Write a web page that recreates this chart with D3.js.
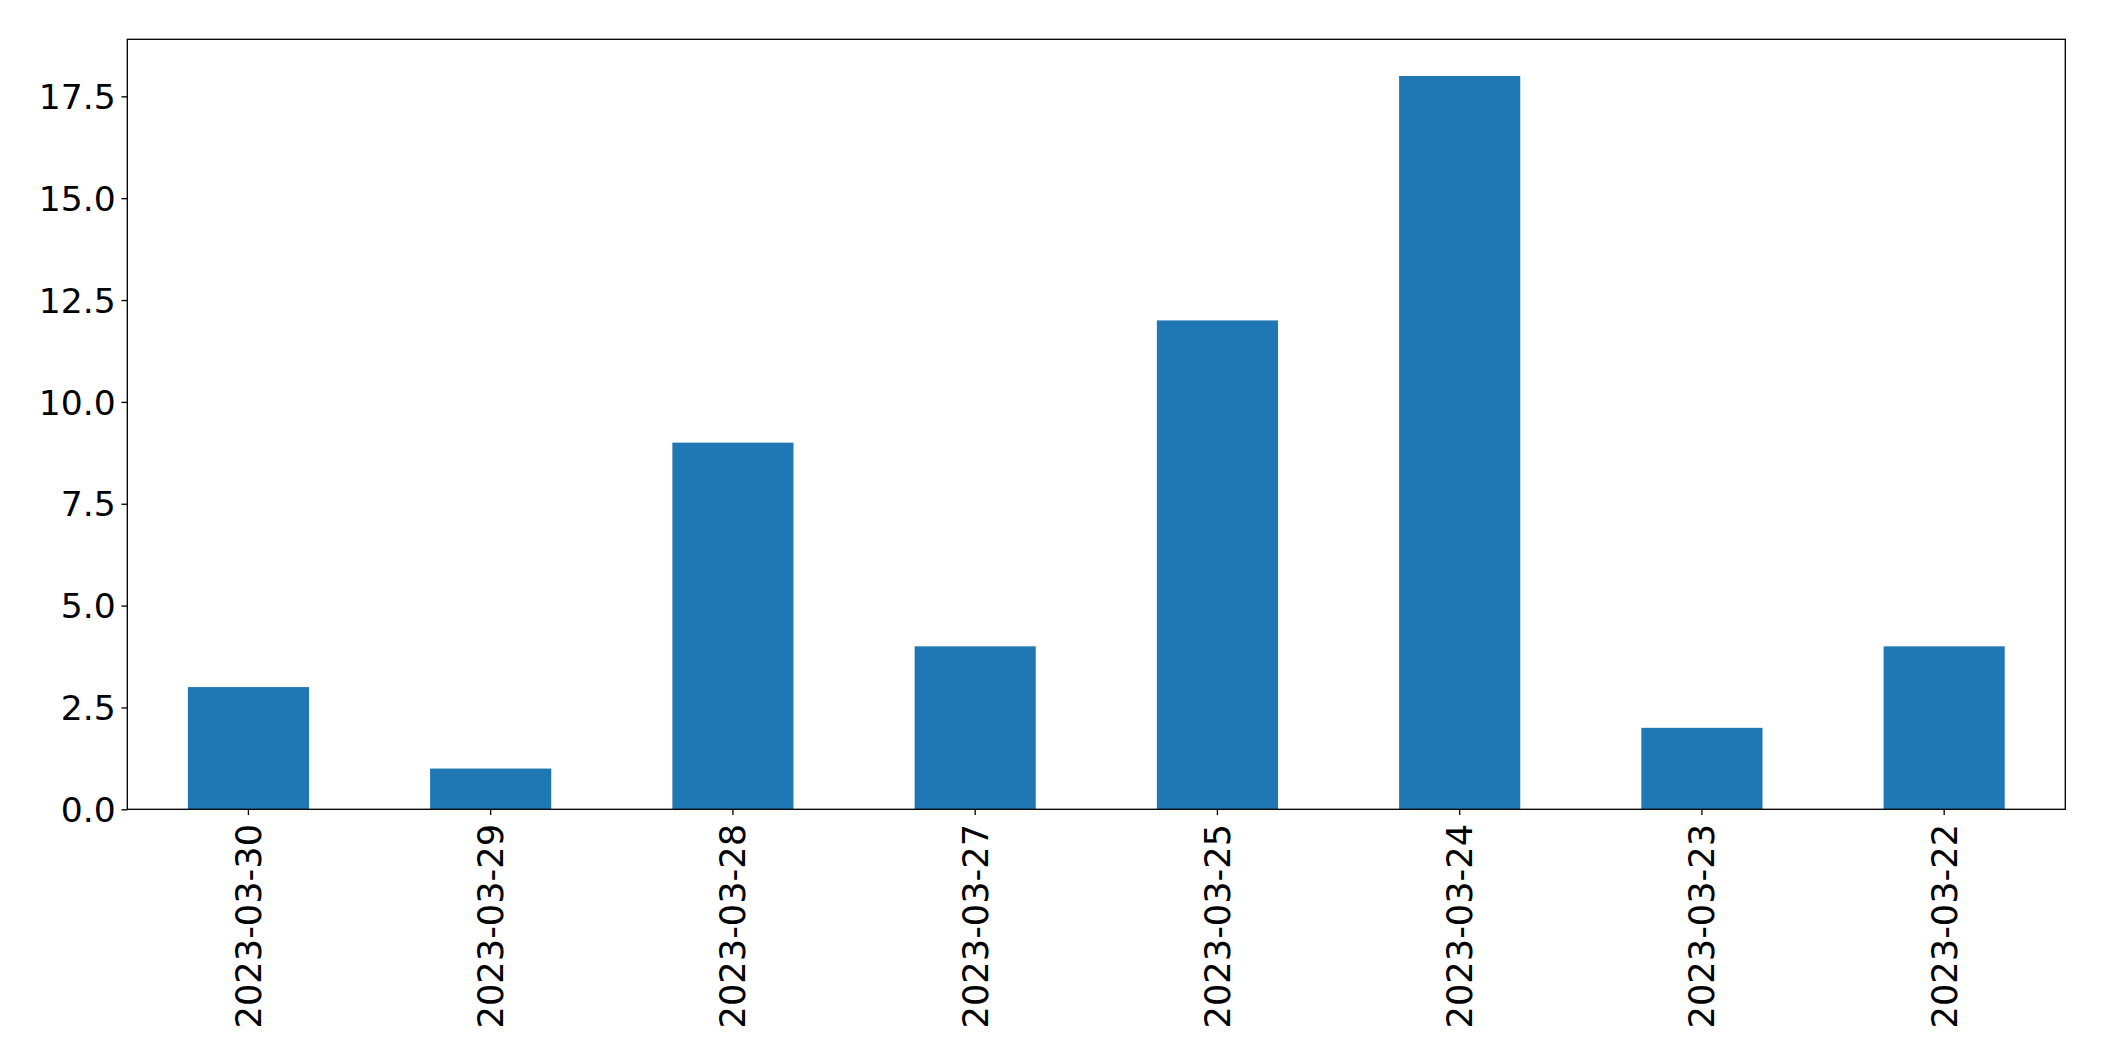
<!DOCTYPE html>
<html><head><meta charset="utf-8">
<script src="https://cdn.jsdelivr.net/npm/d3@7"></script>
<style>body{margin:0;background:#fff}svg{display:block}text{font-family:"DejaVu Sans",sans-serif;fill:#000}</style>
</head><body>
<script>
const categories = ["2023-03-30","2023-03-29","2023-03-28","2023-03-27","2023-03-25","2023-03-24","2023-03-23","2023-03-22"];
const values = [3,1,9,4,12,18,2,4];
const yTicks = [0,2.5,5,7.5,10,12.5,15,17.5];

const W=2104,H=1061;
const m={left:127.3,right:2104-2065.3,top:39.3,bottom:1061-809.3};
const fsY=34.6, fsX=35.2, tickLen=5.8, pad=5.8;
const svg=d3.select("body").append("svg").attr("width",W).attr("height",H);
const x=d3.scaleBand().domain(categories).range([m.left,W-m.right]).paddingInner(0.5).paddingOuter(0.25);
const y=d3.scaleLinear().domain([0,d3.max(values)*1.05]).range([H-m.bottom,m.top]);

svg.append("g").selectAll("rect").data(values).join("rect")
  .attr("x",(d,i)=>x(categories[i])).attr("width",x.bandwidth())
  .attr("y",d=>y(d)).attr("height",d=>y(0)-y(d)).attr("fill","#1f77b4");

const ya=svg.append("g").attr("transform",`translate(${m.left},0)`)
  .call(d3.axisLeft(y).tickValues(yTicks).tickFormat(d3.format(".1f")).tickSize(tickLen).tickPadding(pad));
ya.select(".domain").remove();
ya.selectAll("line").attr("stroke","#000").attr("stroke-width",1.33);
ya.selectAll("text").attr("font-size",fsY).attr("font-family","DejaVu Sans").attr("dy","0.35em");

const xa=svg.append("g").attr("transform",`translate(0,${H-m.bottom})`)
  .call(d3.axisBottom(x).tickSize(tickLen).tickPadding(pad));
xa.select(".domain").remove();
xa.selectAll("line").attr("stroke","#000").attr("stroke-width",1.33);
xa.selectAll("text").attr("font-size",fsX).attr("font-family","DejaVu Sans")
  .attr("text-anchor","end").attr("dy","0.35em").attr("y",0).attr("x",0)
  .attr("transform",`translate(0,${tickLen+pad+3}) rotate(-90)`);

svg.append("rect").attr("x",m.left).attr("y",m.top).attr("width",W-m.left-m.right).attr("height",H-m.top-m.bottom)
  .attr("fill","none").attr("stroke","#000").attr("stroke-width",1.33);
</script>
</body></html>
